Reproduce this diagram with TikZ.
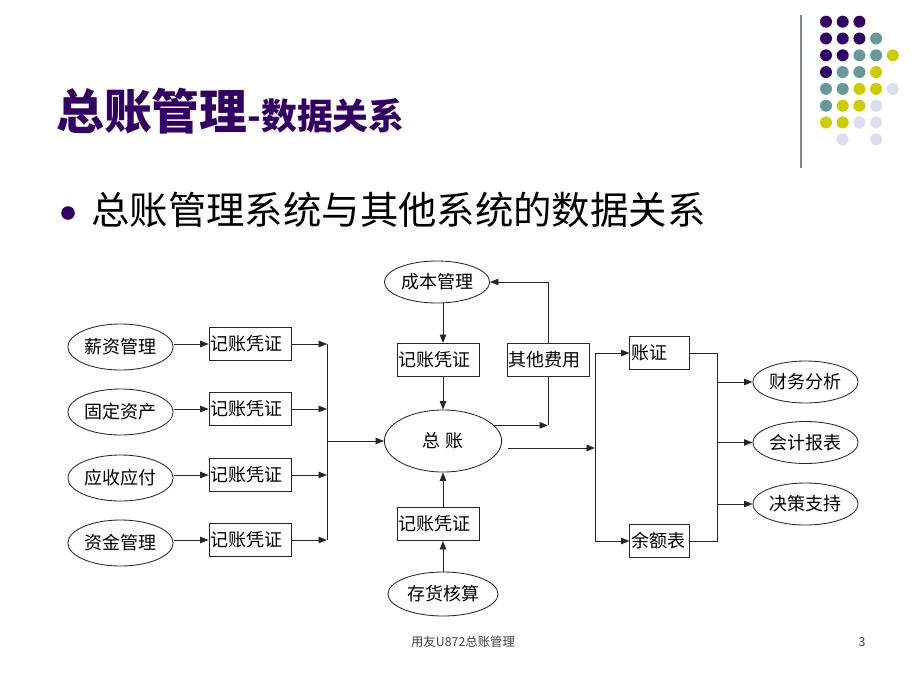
\documentclass[tikz,border=0pt]{standalone}
\usepackage{fontspec}
\setmainfont{Noto Sans CJK SC}
\usepackage{tikz}
\usetikzlibrary{arrows.meta}
\usetikzlibrary{shapes.geometric}
\usetikzlibrary{positioning}
\usetikzlibrary{calc}
\definecolor{titel}{HTML}{330066}
\definecolor{dotP}{HTML}{330066}
\definecolor{dotT}{HTML}{669999}
\definecolor{dotY}{HTML}{CCCC00}
\definecolor{dotL}{HTML}{DCDCF2}
\definecolor{leiste}{HTML}{7F8A7F}

\begin{document}
\begin{tikzpicture}[x=0.025cm, y=-0.025cm, % 1 Einheit = 1 Pixel
    pfeil/.style={-{Triangle[length=6pt,width=4.6pt]}, line width=0.6pt, black!85},
    linie/.style={line width=0.6pt, black!85},
    oval/.style={draw=black!85, ellipse, line width=0.6pt, inner sep=0pt,
        minimum width=2.63cm, minimum height=1.15cm, font=\fontsize{12.8}{14}\selectfont},
    beleg/.style={draw=black!85, line width=0.6pt, minimum height=0.83cm, inner xsep=1pt,
        text width=1.98cm, align=left, font=\fontsize{12.8}{14}\selectfont}]
    \useasboundingbox (0,0) rectangle (920,690);
    % Kopfzeile mit Punkten
    \draw[leiste, line width=1.4pt] (801,15) -- (801,168);
    \foreach \zeile [count=\r from 0] in {{P,P,P},{P,P,P,T},{P,P,T,T,Y},{P,T,T,Y},
        {T,T,Y,Y,L},{T,Y,Y,L},{Y,Y,L,L}} {
        \foreach \f [count=\c from 0] in \zeile {
            \fill[dot\f] (826+16.7*\c, 21.7+16.8*\r) circle (0.15cm);
        }
    }
    \fill[dotL] (842.7,139.3) circle (0.15cm); % letzte Zeile
    \fill[dotL] (876.1,139.3) circle (0.15cm);
    % Titel
    \node[anchor=base west, inner sep=0pt, text=titel, font=\bfseries\fontsize{34}{34}\selectfont]
        (titel) at (56,129) {总账管理{\fontsize{25.5}{26}\selectfont -数据关系}};
    \fill[titel] (68,213) circle (0.17cm);
    \node[anchor=west, inner sep=0pt, font=\fontsize{27.3}{27}\selectfont]
        (punkt) at (91,210) {总账管理系统与其他系统的数据关系};
    % linke Spalte
    \node[oval] (xzgl) at (120.5,347) {薪资管理};
    \node[oval] (gdzc) at (120.5,412) {固定资产};
    \node[oval] (ysyf) at (120.5,478) {应收应付};
    \node[oval] (zjgl) at (120.5,543) {资金管理};
    \node[beleg] (pz1) at (250,344) {记账凭证};
    \node[beleg] (pz2) at (250,409) {记账凭证};
    \node[beleg] (pz3) at (250,475) {记账凭证};
    \node[beleg] (pz4) at (250,540) {记账凭证};
    \coordinate (sammel) at (327,441);
    \foreach \quelle/\beleg in {xzgl/pz1, gdzc/pz2, ysyf/pz3, zjgl/pz4} {
        \draw[pfeil] (\quelle.east |- \beleg) -- (\beleg.west);
        \draw[pfeil] (\beleg.east) -- (\beleg.east -| sammel);
    }
    \draw[linie] (sammel |- pz1) -- (sammel |- pz4);
    % Mitte
    \node[oval, minimum width=2.93cm, minimum height=1.55cm] (zong) at (443,441) {总 账};
    \node[oval, minimum height=1.05cm] (cbgl) at (437,282) {成本管理};
    \node[beleg] (pz5) at (438,360) {记账凭证};
    \node[beleg] (qtfy) at (548,360) {其他费用};
    \node[beleg] (pz6) at (438,524) {记账凭证};
    \node[oval, minimum width=2.75cm, minimum height=1.1cm] (chhs) at (443,594) {存货核算};
    \draw[pfeil] (sammel) -- (zong.west);
    \draw[pfeil] (cbgl.south -| zong) -- (pz5.north -| zong);
    \draw[pfeil] (pz5.south -| zong) -- (zong.north);
    \draw[pfeil] (chhs.north) -- (pz6.south -| zong);
    \draw[pfeil] (pz6.north -| zong) -- (zong.south);
    \draw[pfeil] (zong.17) -- (zong.17 -| qtfy);
    \draw[linie] (qtfy.south) -- (zong.17 -| qtfy);
    \draw[pfeil] (qtfy.north) |- (cbgl.east);
    % rechte Seite
    \node[beleg, text width=1.41cm] (zz) at (659.5,353) {账证};
    \node[beleg, text width=1.41cm] (yeb) at (659.5,541) {余额表};
    \coordinate (verteil) at (595,448);
    \draw[pfeil] ($(zong.east |- verteil)+(6,0)$) -- (verteil);
    \draw[linie] (verteil |- zz) -- (verteil |- yeb);
    \draw[pfeil] (verteil |- zz) -- (zz.west);
    \draw[pfeil] (verteil |- yeb) -- (yeb.west);
    \coordinate (rechts) at (717,442);
    \draw[linie] (zz.east) -| (rechts |- yeb) -- (yeb.east);
    \node[oval, minimum height=1.05cm] (cwfx) at (805.5,382) {财务分析};
    \node[oval, minimum height=1.05cm] (kjbb) at (805.5,442.5) {会计报表};
    \node[oval, minimum height=1.05cm] (jczc) at (805.5,504) {决策支持};
    \foreach \ziel in {cwfx, kjbb, jczc} {
        \draw[pfeil] (rechts |- \ziel) -- (\ziel.west);
    }
    % Fusszeile
    \node[text=black!75, font=\fontsize{8.8}{10}\selectfont] (fuss) at (463,642) {用友U872总账管理};
    \node[text=black!75, font=\fontsize{8.8}{10}\selectfont] (seite) at (862,642) {3};
\end{tikzpicture}
\end{document}
